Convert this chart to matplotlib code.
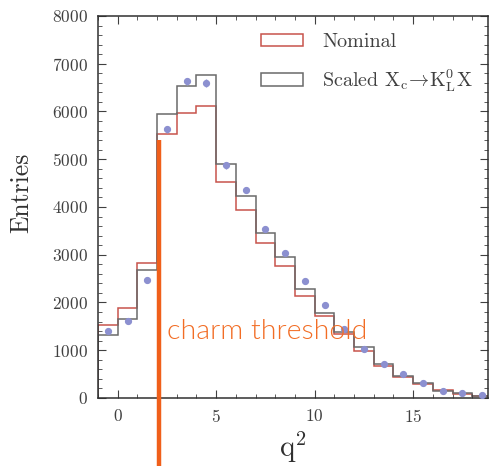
import numpy as np
import matplotlib
matplotlib.use('Agg')
import matplotlib.pyplot as plt
from matplotlib.patches import Patch
from matplotlib.ticker import MultipleLocator

plt.rcParams['font.family'] = 'serif'
plt.rcParams['font.serif'] = ['cmr10']
plt.rcParams['mathtext.fontset'] = 'cm'
plt.rcParams['axes.formatter.use_mathtext'] = True

# bin edges in q^2
edges = np.arange(-1, 20, 1)

# histogram contents
nominal = [1530, 1890, 2830, 5520, 5960, 6120, 4530, 3940, 3240, 2760,
           2140, 1720, 1340, 990, 680, 430, 290, 170, 80, 40]
scaled = [1320, 1650, 2690, 5940, 6530, 6760, 4890, 4220, 3450, 2950,
          2280, 1790, 1390, 1060, 705, 465, 310, 150, 100, 45]

# data points (bin centres)
data_y = [1410, 1620, 2470, 5630, 6630, 6590, 4870, 4360, 3530, 3030,
          2450, 1950, 1445, 1025, 712, 503, 321, 153, 98, 56]
data_err = [38, 40, 50, 75, 81, 81, 70, 66, 59, 55,
            49, 44, 38, 32, 27, 22, 18, 12, 10, 7]

threshold = 2.08

fig = plt.figure(figsize=(4.91, 4.70), dpi=100)
ax = fig.add_axes([0.1996, 0.1532, 0.7943, 0.8128])

red = '#c8534c'
gray = '#6a6a6a'
ax.stairs(nominal, edges, color=red, linewidth=1.1)
ax.stairs(scaled, edges, color=gray, linewidth=1.1)

centres = (edges[:-1] + edges[1:]) / 2
ax.errorbar(centres, data_y, yerr=data_err, fmt='o', color='#8c90d0',
            markersize=4.2, elinewidth=1.0, capsize=0, zorder=3)

ax.set_xlim(-1, 18.8)
ax.set_ylim(0, 8000)
ax.xaxis.set_major_locator(MultipleLocator(5))
ax.xaxis.set_minor_locator(MultipleLocator(1))
ax.yaxis.set_major_locator(MultipleLocator(1000))
ax.yaxis.set_minor_locator(MultipleLocator(200))
ax.tick_params(which='both', direction='in', top=True, right=True,
               labelsize=12.5, labelcolor='#404040', color='#404040')
ax.tick_params(which='major', length=6, pad=7)
ax.tick_params(which='minor', length=3)
for s in ax.spines.values():
    s.set_color('#303030')
    s.set_linewidth(1.1)

ax.set_xlabel(r'q$^2$', fontsize=21, color='#303030', labelpad=4)
ax.set_ylabel('Entries', fontsize=18.5, color='#303030')
ax.yaxis.set_label_coords(-0.167, 0.537)

handles = [Patch(facecolor='none', edgecolor=red, linewidth=1.1),
           Patch(facecolor='none', edgecolor=gray, linewidth=1.1)]
labels = ['Nominal',
          r'Scaled X$_\mathrm{c}\!\rightarrow\!\mathrm{K}^0_\mathrm{L}$X']
ax.legend(handles, labels, loc='upper left', bbox_to_anchor=(0.418, 0.955),
          frameon=False, fontsize=14.5, borderpad=0, borderaxespad=0,
          handlelength=2.1, handleheight=0.6, labelcolor='#404040',
          handletextpad=0.95, labelspacing=0.8)

# charm threshold overlay
orange = '#f05f1a'
ax.plot([threshold, threshold], [-1430, 5400], color=orange, linewidth=3.2,
        clip_on=False, zorder=5, solid_capstyle='butt')
ax.text(threshold + 0.4, 1400, 'charm threshold', color='#f26d25',
        fontsize=20.5, family='Lato', fontweight=300, va='center', ha='left',
        zorder=6)

fig.savefig('out.png', dpi=100)
